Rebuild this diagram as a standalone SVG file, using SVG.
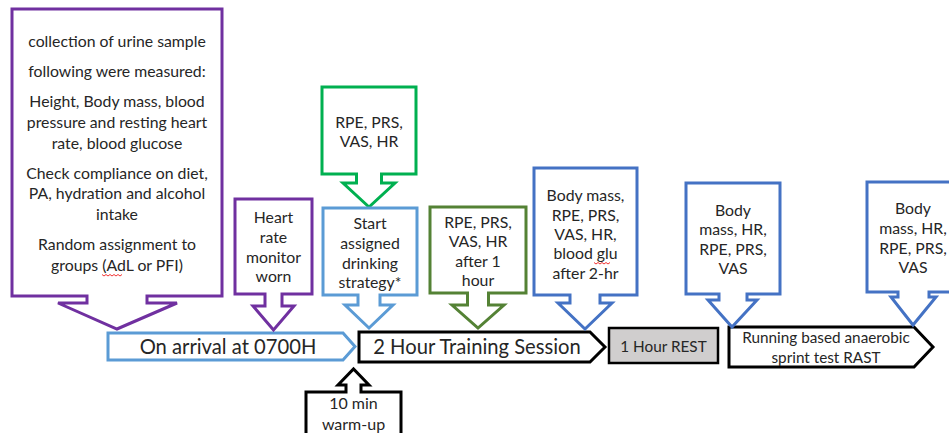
<svg xmlns="http://www.w3.org/2000/svg" width="949" height="433" viewBox="0 0 949 433">
<style>
.t{font-family:Lato,"Liberation Sans",sans-serif;font-size:15.8px;fill:#262626;text-anchor:middle}
.big{font-size:20.2px}
.sm{font-size:15.3px}
.wu{font-size:16px}
.co{fill:#fff;stroke-width:3;stroke-linejoin:miter}
.pu{stroke:#7030A0}
.lb{stroke:#5B9BD5}
.gr{stroke:#00B050}
.dg{stroke:#548235}
.bl{stroke:#4472C4}
.bk{stroke:#000}
.sq{fill:none;stroke:#e00;stroke-width:0.8}
</style>
<rect width="949" height="433" fill="#fff"/>
<g id="connectors">
  <path id="arrival" class="co lb" d="M108,333 H343 L355,346.5 L343,360 H108 Z"/>
  <path id="training" class="co bk" stroke-width="2.5" d="M359,332 H590 L605,347 L590,362 H359 Z"/>
  <path id="running" class="co bk" stroke-width="2.5" d="M729,327 H914 L933,347 L914,367 H729 Z"/>
</g>
<g id="n-arrival"><text class="t big" x="228" y="354">On arrival at 0700H</text></g>
<g id="n-training"><text class="t big" x="477" y="354">2 Hour Training Session</text></g>
<g id="n-rest">
  <rect x="609" y="328" width="109" height="35" fill="#D0CECE" stroke="#000" stroke-width="2.5"/>
  <text class="t sm" x="663.5" y="351.5">1 Hour REST</text>
</g>
<g id="n-running">
  <text class="t sm" x="826" y="342.5">Running based anaerobic</text>
  <text class="t sm" x="826" y="362.5">sprint test RAST</text>
</g>
<g id="n-collection">
  <path class="co pu" d="M12,9 H222 V296 H147 V303 H177 L117,329 L58,303 H87 V296 H12 Z"/>
  <text class="t" x="117" y="46.5">collection of urine sample</text>
  <text class="t" x="117" y="76.5">following were measured:</text>
  <text class="t" x="117" y="106.5">Height, Body mass, blood</text>
  <text class="t" x="117" y="127.5">pressure and resting heart</text>
  <text class="t" x="117" y="148.5">rate, blood glucose</text>
  <text class="t" x="117" y="178.5">Check compliance on diet,</text>
  <text class="t" x="117" y="198.5">PA, hydration and alcohol</text>
  <text class="t" x="117" y="219.5">intake</text>
  <text class="t" x="117" y="249.5">Random assignment to</text>
  <text class="t" x="117" y="270.5">groups (AdL or PFI)</text>
  <path class="sq" d="M102,274.5 l2,1.5 l2,-1.5 l2,1.5 l2,-1.5 l2,1.5 l2,-1.5 l2,1.5 l2,-1.5 l2,1.5 l2,-1.5"/>
</g>
<g id="n-heart">
  <path class="co pu" d="M235,199 H312 V294 H282 V306 H294 L273.5,330 L253,306 H265 V294 H235 Z"/>
  <text class="t" x="273.5" y="222.5">Heart</text>
  <text class="t" x="273.5" y="242.5">rate</text>
  <text class="t" x="273.5" y="262.5">monitor</text>
  <text class="t" x="273.5" y="281.5">worn</text>
</g>
<g id="n-rpe-start">
  <path class="co gr" d="M322,87 H416 V174 H381.5 V183 H395 L369,207 L343,183 H356.5 V174 H322 Z"/>
  <text class="t" x="369" y="127.5">RPE, PRS,</text>
  <text class="t" x="369" y="146.5">VAS, HR</text>
</g>
<g id="n-drinking">
  <path class="co lb" d="M323,208 H417 V295 H380 V305 H393 L369,328 L345,305 H358 V295 H323 Z"/>
  <text class="t" x="370" y="228.5">Start</text>
  <text class="t" x="370" y="248.5">assigned</text>
  <text class="t" x="370" y="268.5">drinking</text>
  <text class="t" x="370" y="287.5">strategy*</text>
</g>
<g id="n-rpe-1h">
  <path class="co dg" d="M430,207 H526 V293 H488.5 V305 H504 L478,328 L452,305 H467.5 V293 H430 Z"/>
  <text class="t" x="478" y="227.5">RPE, PRS,</text>
  <text class="t" x="478" y="246.5">VAS, HR</text>
  <text class="t" x="478" y="266.5">after 1</text>
  <text class="t" x="478" y="285.5">hour</text>
</g>
<g id="n-body-2h">
  <path class="co bl" d="M534,168 H637 V295 H600 V303 H612 L585,329 L558,303 H570 V295 H534 Z"/>
  <text class="t" x="585.5" y="200.5">Body mass,</text>
  <text class="t" x="585.5" y="220.5">RPE, PRS,</text>
  <text class="t" x="585.5" y="239.5">VAS, HR,</text>
  <text class="t" x="585.5" y="258.5">blood glu</text>
  <text class="t" x="585.5" y="278.5">after 2-hr</text>
  <path class="sq" d="M594,262.5 l2,1.5 l2,-1.5 l2,1.5 l2,-1.5 l2,1.5 l2,-1.5 l2,1.5 l2,-1.5"/>
</g>
<g id="n-body-rest">
  <path class="co bl" d="M686,183 H780 V294 H747 V300 H757 L732,327 L708,300 H719 V294 H686 Z"/>
  <text class="t" x="733" y="215.5">Body</text>
  <text class="t" x="733" y="234.5">mass, HR,</text>
  <text class="t" x="733" y="254.5">RPE, PRS,</text>
  <text class="t" x="733" y="273.5">VAS</text>
</g>
<g id="n-body-rast">
  <path class="co bl" d="M867,182 H962 V292 H929 V297 H936 L913,325 L891,297 H898 V292 H867 Z"/>
  <text class="t" x="913" y="213.5">Body</text>
  <text class="t" x="913" y="233.5">mass, HR,</text>
  <text class="t" x="913" y="253.5">RPE, PRS,</text>
  <text class="t" x="913" y="272.5">VAS</text>
</g>
<g id="n-warmup">
  <path class="co bk" stroke-width="2.5" d="M306,440 V392 H346 V385 H338 L353.5,369 L369,385 H361 V392 H401 V440 Z"/>
  <text class="t wu" x="353.5" y="408.5">10 min</text>
  <text class="t wu" x="353.5" y="429.5">warm-up</text>
</g>
</svg>
